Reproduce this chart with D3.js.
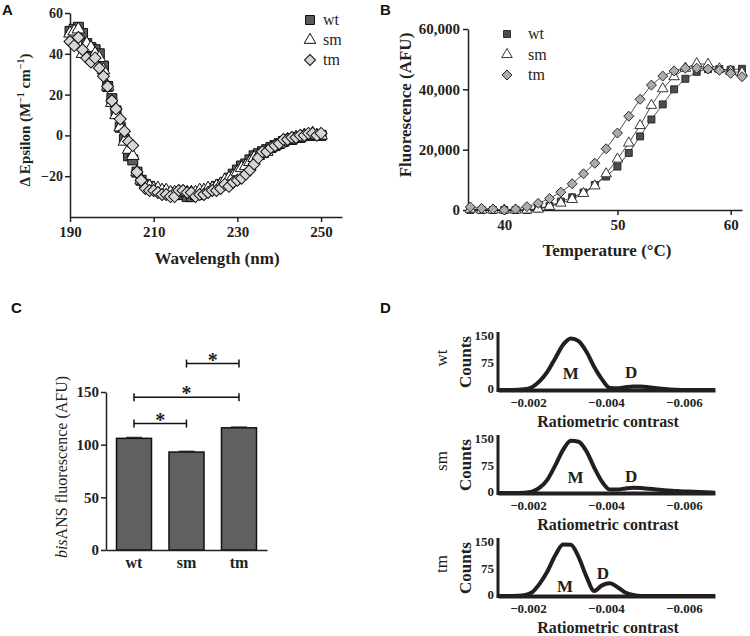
<!DOCTYPE html>
<html><head><meta charset="utf-8">
<script src="https://cdn.jsdelivr.net/npm/d3@7"></script>
<style>body{margin:0;background:#fff}</style>
</head><body><svg id="c" width="750" height="636"></svg>
<script>
// ---------- DATA ----------
const seriesNames = ["wt","sm","tm"];
// Panel A: CD spectra
const cdWavelength = [190,191,192,193,194,195,196,197,198,199,200,201,202,203,204,205,206,207,208,209,210,211,212,213,214,215,216,217,218,219,220,221,222,223,224,225,226,227,228,229,230,231,232,233,234,235,236,237,238,239,240,241,242,243,244,245,246,247,248,249,250];
const cdWt = [51,52,53,50,45,43,42,40,34,24, 18,12,4,-2,-10,-12,-18,-22,-24,-25, -26,-27,-27,-28,-28,-29,-29,-29,-30,-30, -29,-29,-28,-27,-26,-25,-24,-23,-21,-19, -17,-15,-14,-12,-10,-9,-8,-7,-6,-5, -4,-3,-2,-2,-1,-1,0,0,0,0,0];
const cdSm = [50,51,52,40,45,43,40,38,32,24, 16,10,4,-3,-7,-10,-18,-22,-24,-25, -26,-26,-27,-27,-28,-28,-28,-28,-28,-28, -28,-27,-27,-26,-26,-25,-24,-22,-21,-20, -18,-16,-15,-13,-11,-10,-9,-8,-6,-5, -4,-3,-2,-2,-1,-1,0,0,1,0,0];
const cdTm = [46,44,48,42,38,36,38,33,29,24, 17,13,8,2,-3,-5,-18,-22,-26,-27, -27,-28,-29,-29,-30,-30,-27,-27,-28,-28, -30,-29,-29,-28,-27,-27,-26,-24,-25,-23, -22,-21,-19,-17,-14,-11,-8,-8,-6,-5, -4,-2,-2,-1,-1,0,0,1,1,0,1];
const aXTicks = [190,210,230,250];
const aYTicks = [-20,0,20,40,60];
// Panel B: thermal melt
const meltTemp = [37,38,39,40,41,42,43,44,45,46,47,48,49,50,51,52,53,54,55,56,57,58,59,60,61];
const meltWt = [0,0,0,0,0,0,500,1300,2800,4200, 5800,8300,11100,14400,18900,24400,30000,35000,40000,43500, 45800,46700,46700,46500,46800];
const meltSm = [300,0,0,0,0,0,300,1200,2300,3500, 5500,8000,12000,16900,22200,28000,34700,40200,44200,47000, 48500,48300,46800,46000,45500];
const meltTm = [1000,500,300,0,300,1100,2200,3800,5900,8700, 12000,15500,20300,25500,31100,36700,41400,44400,46100,47000, 47000,46700,46300,45300,44200];
const bXTicks = [40,50,60];
const bYTicks = [0,20000,40000,60000];
// Panel C: bisANS
const ansValues = [106,93,116];
const ansErrors = [1,0.8,0.8];
const cYTicks = [0,50,100,150];
const sigPairs = [["wt","sm",120],["wt","tm",145],["sm","tm",177]];
// Panel D: mass photometry
const mpContrast = [-0.0012,-0.0016,-0.0019,-0.0021,-0.0023,-0.0025,-0.0027,-0.0029,-0.0031,-0.0033,-0.0035,-0.0037,-0.0039,-0.0041,-0.0043,-0.0045,-0.0047,-0.0049,-0.0051,-0.0053,-0.0055,-0.0058,-0.0061,-0.0064,-0.0068];
const mpWt = [0,0,2,8,25,52,90,128,146,138,108,65,30,6,5,8,10,10,8,5,3,1,0,0,0];
const mpSm = [0,0,1,4,15,38,78,122,148,145,118,72,32,10,10,13,15,14,12,10,8,6,4,3,1];
const mpTm = [0,0,2,10,35,70,115,146,145,110,55,14,30,36,25,10,3,0,0,0,0,0,0,0,0];
const mpPeakLabels = [
  [{t:"M",x:-0.0031,y:30},{t:"D",x:-0.00465,y:35}],
  [{t:"M",x:-0.00322,y:27},{t:"D",x:-0.00465,y:30}],
  [{t:"M",x:-0.00295,y:10},{t:"D",x:-0.00392,y:47}]
];
const dXTicks = [-0.002,-0.004,-0.006];
const dYTicks = [0,75,150];

// ---------- DRAW ----------
const svg = d3.select("#c");
const serif = "'Liberation Serif','Times New Roman',serif";
const sans = "'Liberation Sans',Arial,sans-serif";
const ink = "#231f20";
function styleAxis(g, fs, sw){
  g.selectAll("text").attr("font-family",serif).attr("font-weight","bold").attr("font-size",fs).attr("fill",ink);
  g.selectAll("path,line").attr("stroke",ink).attr("stroke-width",sw);
}
const minusFmt = d => d<0 ? "\u2212"+Math.abs(d) : String(d);
function marker(type, size){
  if(type==="wt") return d3.symbol().type(d3.symbolSquare).size(size*size)();
  if(type==="sm") return d3.symbol().type(d3.symbolTriangle).size(size*size*0.48)();
  return d3.symbol().type(d3.symbolSquare).size(size*size*0.5)();
}
function panelLetter(t,x,y){
  svg.append("text").attr("x",x).attr("y",y).text(t).attr("font-family",sans).attr("font-weight","bold").attr("font-size",15).attr("fill","#111");
}
panelLetter("A",2,15); panelLetter("B",380,15); panelLetter("C",11,313); panelLetter("D",380,313);

// ===== Panel A =====
const xA = d3.scaleLinear().domain([190,255]).range([70,342]);
const yA = d3.scaleLinear().domain([-40,60]).range([217,13]);
const gA = svg.append("g");
styleAxis(gA.append("g").attr("transform","translate(0,217)")
  .call(d3.axisBottom(xA).tickValues(aXTicks).tickSize(5).tickSizeOuter(0).tickPadding(4)),15,1.5);
styleAxis(gA.append("g").attr("transform","translate(70,0)")
  .call(d3.axisLeft(yA).tickValues(aYTicks).tickFormat(minusFmt).tickSize(5).tickSizeOuter(0).tickPadding(2)),14,1.5);
const aFill = {wt:"#5a5a5a", sm:"#ffffff", tm:"#d6d6d6"};
const aSize = {wt:10, sm:12, tm:12};
const cdSeries = {wt:cdWt, sm:cdSm, tm:cdTm};
seriesNames.forEach(s=>{
  gA.append("g").selectAll("path").data(cdWavelength.map((w,i)=>[w,cdSeries[s][i]])).join("path")
    .attr("d",marker(s,aSize[s]))
    .attr("transform",d=>`translate(${xA(d[0])},${yA(d[1])})`+(s==="tm"?" rotate(45)":""))
    .attr("fill",aFill[s]).attr("stroke","#111").attr("stroke-width",1);
});
// legend A
seriesNames.forEach((s,i)=>{
  const y = 20+i*20;
  gA.append("path").attr("d",marker(s,s==="wt"?9:11)).attr("transform",`translate(310,${y})`+(s==="tm"?" rotate(45)":""))
    .attr("fill",aFill[s]).attr("stroke","#111").attr("stroke-width",1);
  gA.append("text").attr("x",323).attr("y",y+5).text(s).attr("font-family",serif).attr("font-size",16).attr("fill",ink);
});
gA.append("text").attr("x",217).attr("y",264).attr("text-anchor","middle").text("Wavelength (nm)")
  .attr("font-family",serif).attr("font-weight","bold").attr("font-size",17).attr("fill",ink);
const ta = gA.append("text").attr("transform","translate(30,120) rotate(-90)").attr("text-anchor","middle")
  .attr("font-family",serif).attr("font-weight","bold").attr("font-size",15).attr("fill",ink);
ta.append("tspan").text("\u0394 Epsilon (M");
ta.append("tspan").text("\u22121").attr("font-size",10).attr("dy",-6);
ta.append("tspan").text(" cm").attr("dy",6);
ta.append("tspan").text("\u22121").attr("font-size",10).attr("dy",-6);
ta.append("tspan").text(")").attr("dy",6);

// ===== Panel B =====
const xB = d3.scaleLinear().domain([36.8,61]).range([468,742]);
const yB = d3.scaleLinear().domain([0,60000]).range([210,29]);
const gB = svg.append("g");
styleAxis(gB.append("g").attr("transform","translate(0,210)")
  .call(d3.axisBottom(xB).tickValues(bXTicks).tickSize(5).tickSizeOuter(0).tickPadding(4)),15,1.5);
styleAxis(gB.append("g").attr("transform","translate(468,0)")
  .call(d3.axisLeft(yB).tickValues(bYTicks).tickFormat(d3.format(",")).tickSize(5).tickSizeOuter(0).tickPadding(3)),15,1.5);
const bFill = {wt:"#4d4d4d", sm:"#ffffff", tm:"#a9aea9"};
const bSize = {wt:7, sm:10, tm:10};
const meltSeries = {wt:meltWt, sm:meltSm, tm:meltTm};
seriesNames.forEach(s=>{
  const pts = meltTemp.map((t,i)=>[t,meltSeries[s][i]]);
  gB.append("path").datum(pts).attr("d",d3.line().x(d=>xB(d[0])).y(d=>yB(d[1])))
    .attr("fill","none").attr("stroke","#222").attr("stroke-width",0.8);
});
seriesNames.forEach(s=>{
  const pts = meltTemp.map((t,i)=>[t,meltSeries[s][i]]);
  gB.append("g").selectAll("path").data(pts).join("path")
    .attr("d",marker(s,bSize[s]))
    .attr("transform",d=>`translate(${xB(d[0])},${yB(d[1])})`+(s==="tm"?" rotate(45)":""))
    .attr("fill",bFill[s]).attr("stroke","#222").attr("stroke-width",0.9);
});
seriesNames.forEach((s,i)=>{
  const y = 34+i*20.5;
  gB.append("path").attr("d",marker(s,bSize[s])).attr("transform",`translate(507,${y})`+(s==="tm"?" rotate(45)":""))
    .attr("fill",bFill[s]).attr("stroke","#222").attr("stroke-width",0.9);
  gB.append("text").attr("x",528).attr("y",y+5).text(s).attr("font-family",serif).attr("font-size",16).attr("fill",ink);
});
gB.append("text").attr("x",607).attr("y",256).attr("text-anchor","middle").text("Temperature (\u00B0C)")
  .attr("font-family",serif).attr("font-weight","bold").attr("font-size",17).attr("fill",ink);
gB.append("text").attr("transform","translate(411,105) rotate(-90)").attr("text-anchor","middle").text("Fluorescence (AFU)")
  .attr("font-family",serif).attr("font-weight","bold").attr("font-size",17).attr("fill",ink);

// ===== Panel C =====
const xC = d3.scaleBand().domain(seriesNames).range([106,267]).paddingInner(0.333).paddingOuter(0.2);
const yC = d3.scaleLinear().domain([0,150]).range([550,392]);
const gC = svg.append("g");
gC.selectAll("rect").data(seriesNames).join("rect")
  .attr("x",d=>xC(d)).attr("width",xC.bandwidth())
  .attr("y",(d,i)=>yC(ansValues[i])).attr("height",(d,i)=>550-yC(ansValues[i]))
  .attr("fill","#606060").attr("stroke","#111").attr("stroke-width",1.5);
seriesNames.forEach((s,i)=>{
  const cx = xC(s)+xC.bandwidth()/2;
  gC.append("line").attr("x1",cx-8).attr("x2",cx+8).attr("y1",yC(ansValues[i]+ansErrors[i])).attr("y2",yC(ansValues[i]+ansErrors[i]))
    .attr("stroke","#111").attr("stroke-width",1);
  gC.append("line").attr("x1",cx).attr("x2",cx).attr("y1",yC(ansValues[i]+ansErrors[i])).attr("y2",yC(ansValues[i]))
    .attr("stroke","#111").attr("stroke-width",1);
});
styleAxis(gC.append("g").attr("transform","translate(0,550)")
  .call(d3.axisBottom(xC).tickSize(0).tickSizeOuter(0).tickPadding(7)),16,1.5);
styleAxis(gC.append("g").attr("transform","translate(106,0)")
  .call(d3.axisLeft(yC).tickValues(cYTicks).tickSize(5).tickSizeOuter(0).tickPadding(2)),15,1.5);
sigPairs.forEach(p=>{
  const x1 = xC(p[0])+xC.bandwidth()/2, x2 = xC(p[1])+xC.bandwidth()/2, y = yC(p[2]);
  const g = gC.append("g").attr("stroke","#111").attr("stroke-width",1.5);
  g.append("line").attr("x1",x1).attr("x2",x2).attr("y1",y).attr("y2",y);
  g.append("line").attr("x1",x1).attr("x2",x1).attr("y1",y-4).attr("y2",y+4);
  g.append("line").attr("x1",x2).attr("x2",x2).attr("y1",y-4).attr("y2",y+4);
  gC.append("text").attr("x",(x1+x2)/2).attr("y",y+3).attr("text-anchor","middle").text("*")
    .attr("font-family",serif).attr("font-weight","bold").attr("font-size",20).attr("fill",ink);
});
const tc = gC.append("text").attr("transform","translate(67,467) rotate(-90)").attr("text-anchor","middle")
  .attr("font-family",serif).attr("font-size",16).attr("fill",ink);
tc.append("tspan").text("bis").attr("font-style","italic");
tc.append("tspan").text("ANS fluorescence (AFU)");

// ===== Panel D =====
const xD = d3.scaleLinear().domain([-0.00123,-0.0068]).range([498,715]);
const mpSeries = {wt:mpWt, sm:mpSm, tm:mpTm};
seriesNames.forEach((s,i)=>{
  const off = i*103;
  const yD = d3.scaleLinear().domain([0,150]).range([390+off,337+off]);
  const g = svg.append("g");
  // curve
  g.append("path").datum(mpContrast.map((c,k)=>[c,mpSeries[s][k]]))
    .attr("d",d3.line().x(d=>xD(d[0])).y(d=>yD(d[1])).curve(d3.curveMonotoneX))
    .attr("fill","none").attr("stroke",ink).attr("stroke-width",4).attr("stroke-linejoin","round");
  // axes
  const ax = g.append("g").attr("transform",`translate(0,${390+off})`)
    .call(d3.axisBottom(xD).tickValues(dXTicks).tickFormat(d=>"\u2212"+Math.abs(d).toFixed(3)).tickSize(0).tickSizeOuter(0).tickPadding(8));
  styleAxis(ax,13,4);
  const ay = g.append("g").attr("transform",`translate(498,0)`)
    .call(d3.axisLeft(yD).tickValues(dYTicks).tickSize(0).tickSizeOuter(0).tickPadding(4));
  styleAxis(ay,13,3);
  ay.select(".domain").attr("d",`M0,${yD(150)-5}V${yD(0)+2}`);
  ay.selectAll(".tick text").attr("dy","0.2em");
  // peak labels
  mpPeakLabels[i].forEach(l=>{
    g.append("text").attr("x",xD(l.x)).attr("y",yD(l.y)).attr("text-anchor","middle").text(l.t)
      .attr("font-family",serif).attr("font-weight","bold").attr("font-size",17).attr("fill",ink);
  });
  g.append("text").attr("x",608).attr("y",427+off).attr("text-anchor","middle").text("Ratiometric contrast")
    .attr("font-family",serif).attr("font-weight","bold").attr("font-size",16).attr("fill",ink);
  g.append("text").attr("transform",`translate(471,${362+off}) rotate(-90)`).attr("text-anchor","middle").text("Counts")
    .attr("font-family",serif).attr("font-weight","bold").attr("font-size",17).attr("fill",ink);
  g.append("text").attr("transform",`translate(447,${358+off}) rotate(-90)`).attr("text-anchor","middle").text(s)
    .attr("font-family",serif).attr("font-size",17).attr("fill",ink);
});
</script></body></html>
